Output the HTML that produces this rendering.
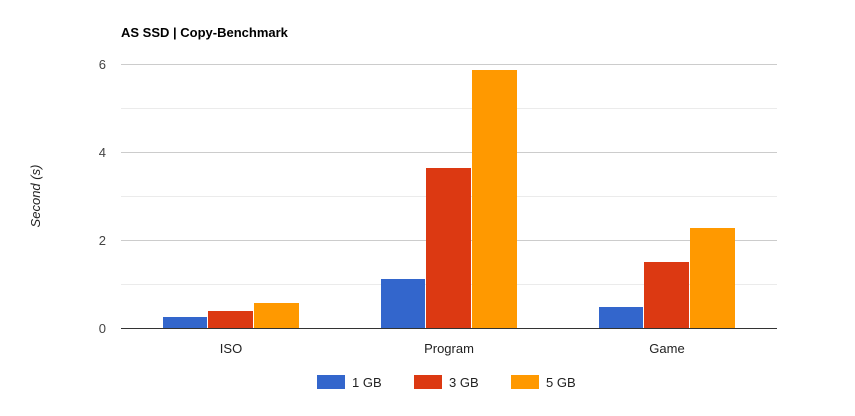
<!DOCTYPE html>
<html><head><style>body{margin:0;background:#fff}</style></head><body>
<svg width="855" height="411" xmlns="http://www.w3.org/2000/svg" font-family="Liberation Sans, Arial, sans-serif">
<rect width="855" height="411" fill="#fff"/>
<text x="121" y="37" font-size="13" font-weight="bold" fill="#000">AS SSD | Copy-Benchmark</text>
<g stroke="#ebebeb" stroke-width="1">
<line x1="121" x2="777" y1="284.5" y2="284.5"/><line x1="121" x2="777" y1="196.5" y2="196.5"/><line x1="121" x2="777" y1="108.5" y2="108.5"/>
</g>
<g stroke="#ccc" stroke-width="1">
<line x1="121" x2="777" y1="240.5" y2="240.5"/><line x1="121" x2="777" y1="152.5" y2="152.5"/><line x1="121" x2="777" y1="64.5" y2="64.5"/>
</g>
<g font-size="13" fill="#444" text-anchor="end">
<text x="106" y="333">0</text><text x="106" y="245">2</text><text x="106" y="157">4</text><text x="106" y="69">6</text>
</g>
<text transform="translate(40,196) rotate(-90)" font-size="13" font-style="italic" fill="#222" text-anchor="middle">Second (s)</text>
<g>
<rect x="163" y="317" width="44" height="11" fill="#3366cc"/>
<rect x="208" y="311" width="45" height="17" fill="#dc3912"/>
<rect x="254" y="303" width="45" height="25" fill="#ff9900"/>
<rect x="381" y="279" width="44" height="49" fill="#3366cc"/>
<rect x="426" y="168" width="45" height="160" fill="#dc3912"/>
<rect x="472" y="70" width="45" height="258" fill="#ff9900"/>
<rect x="599" y="307" width="44" height="21" fill="#3366cc"/>
<rect x="644" y="262" width="45" height="66" fill="#dc3912"/>
<rect x="690" y="228" width="45" height="100" fill="#ff9900"/>
</g>
<line x1="121" x2="777" y1="328.5" y2="328.5" stroke="#333" stroke-width="1"/>
<g font-size="13" fill="#222" text-anchor="middle">
<text x="231" y="353">ISO</text><text x="449" y="353">Program</text><text x="667" y="353">Game</text>
</g>
<g font-size="13" fill="#222">
<rect x="317" y="375" width="28" height="14" fill="#3366cc"/><text x="352" y="387">1 GB</text>
<rect x="414" y="375" width="28" height="14" fill="#dc3912"/><text x="449" y="387">3 GB</text>
<rect x="511" y="375" width="28" height="14" fill="#ff9900"/><text x="546" y="387">5 GB</text>
</g>
</svg>
</body></html>
